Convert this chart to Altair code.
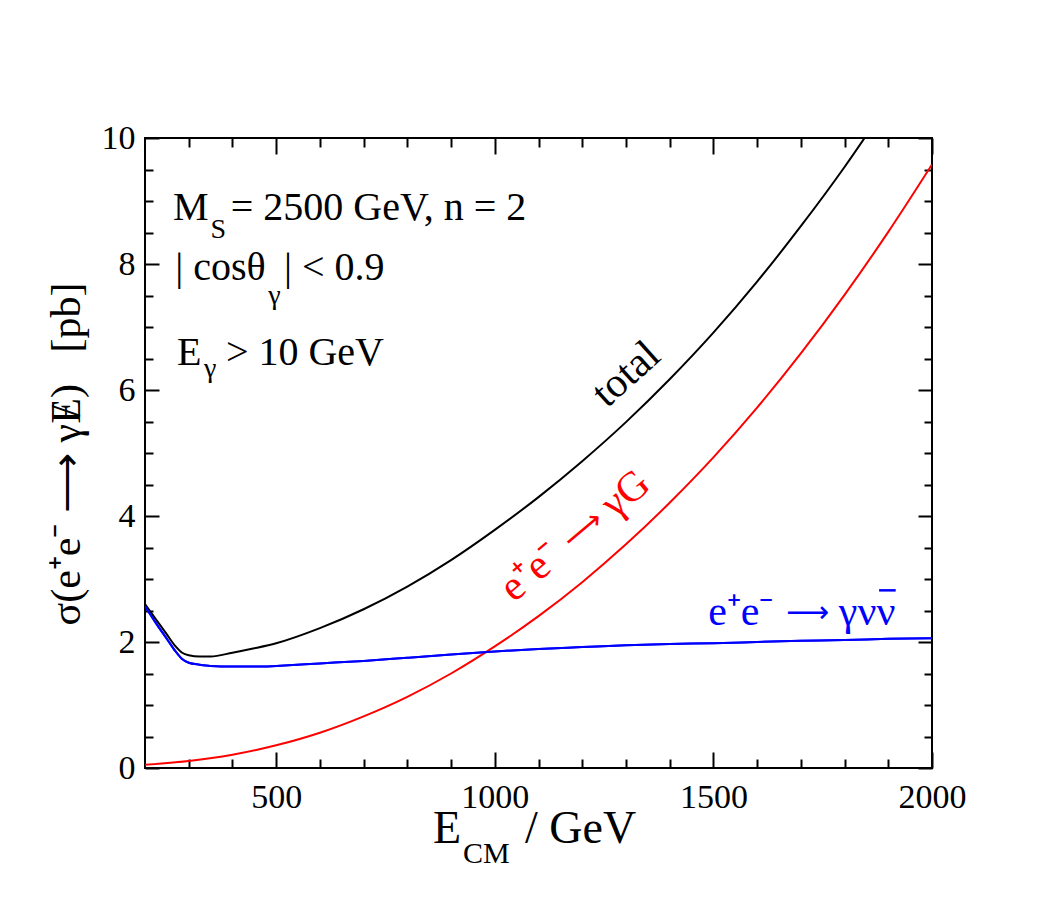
import altair as alt
import pandas as pd

# ---- data ----
E_total = [200, 225, 250, 270, 285, 300, 325, 350, 400, 450, 500, 600, 700, 800, 900,
           1000, 1100, 1200, 1300, 1400, 1500, 1600, 1700, 1800, 1900]
sig_total = [2.60, 2.36, 2.12, 1.93, 1.83, 1.79, 1.77, 1.77, 1.83, 1.90, 1.98, 2.22, 2.52,
             2.88, 3.30, 3.78, 4.30, 4.87, 5.49, 6.17, 6.91, 7.72, 8.60, 9.54, 10.56]

E_grav = [200, 300, 400, 500, 600, 700, 800, 900, 1000, 1100, 1200, 1300, 1400, 1500,
          1600, 1700, 1800, 1900, 2000]
sig_grav = [0.05, 0.11, 0.21, 0.36, 0.56, 0.82, 1.13, 1.50, 1.93, 2.41, 2.95, 3.55, 4.21,
            4.93, 5.72, 6.58, 7.51, 8.51, 9.58]

E_nunu = [200, 225, 250, 270, 285, 300, 325, 350, 400, 470, 500, 600, 700, 800, 900, 1000,
          1100, 1200, 1300, 1400, 1500, 1600, 1700, 1800, 1900, 2000]
sig_nunu = [2.57, 2.30, 2.05, 1.85, 1.73, 1.67, 1.64, 1.62, 1.61, 1.61, 1.62, 1.66, 1.70,
            1.75, 1.80, 1.85, 1.89, 1.92, 1.95, 1.97, 1.98, 2.00, 2.02, 2.03, 2.05, 2.06]

x_major = [500, 1000, 1500, 2000]
x_minor = [300, 400, 600, 700, 800, 900, 1100, 1200, 1300, 1400, 1600, 1700, 1800, 1900]
y_major = [0, 2, 4, 6, 8, 10]
y_minor = [0.5, 1, 1.5, 2.5, 3, 3.5, 4.5, 5, 5.5, 6.5, 7, 7.5, 8.5, 9, 9.5]

# annotation pieces (text, E, sigma, font size)
ann_text = ["M", "S", "= 2500 GeV, n = 2", "| cosθ", "γ", "| < 0.9", "E", "γ", "> 10 GeV"]
ann_E = [264, 350, 396, 269, 482, 518, 273, 335, 385]
ann_sig = [8.70, 8.42, 8.70, 7.75, 7.36, 7.75, 6.40, 6.20, 6.40]
ann_size = [40, 28, 40, 40, 28, 40, 40, 28, 40]

FONT = "Liberation Serif"
ARROW_FONT = "DejaVu Sans"
W, H = 787, 630

xs = alt.Scale(domain=[200, 2000], nice=False, zero=False)
ys = alt.Scale(domain=[0, 10], nice=False, zero=False)


def ax(orient, values, size, labels, pad=10):
    kw = dict(orient=orient, values=values, tickSize=size, offset=-size, domain=False,
              grid=False, ticks=True, tickColor="black", tickWidth=2, labels=labels,
              title=None)
    if labels:
        kw.update(labelFont=FONT, labelFontSize=34, labelColor="black", labelPadding=pad,
                  labelFlush=False, labelOverlap=False, labelBound=False, format="d")
    return alt.Axis(**kw)


def line(E, s, color, xa, ya):
    df = pd.DataFrame({"E": E, "s": s})
    return alt.Chart(df).mark_line(color=color, strokeWidth=2, clip=True,
                                   interpolate="monotone").encode(
        x=alt.X("E:Q", scale=xs, axis=xa),
        y=alt.Y("s:Q", scale=ys, axis=ya),
    )


l_total = line(E_total, sig_total, "black",
               ax("bottom", x_major, 16, True, 12), ax("left", y_major, 14, True, 10))
l_grav = line(E_grav, sig_grav, "#ff0000",
              ax("bottom", x_minor, 9, False), ax("left", y_minor, 8, False))
l_nunu = line(E_nunu, sig_nunu, "#0000ff",
              ax("top", x_major, 16, False), ax("right", y_major, 14, False))
l_nunu2 = line(E_nunu, sig_nunu, "#0000ff",
               ax("top", x_minor, 9, False), ax("right", y_minor, 8, False))

ann_df = pd.DataFrame({"t": ann_text, "E": ann_E, "s": ann_sig, "fs": ann_size})
ann = alt.Chart(ann_df).mark_text(font=FONT, align="left", baseline="alphabetic",
                                  color="black").encode(
    x=alt.X("E:Q", scale=xs, axis=None),
    y=alt.Y("s:Q", scale=ys, axis=None),
    text="t:N",
    size=alt.Size("fs:Q", scale=None, legend=None),
)


def label(txt, E, s, color, angle=0, align="left", font=FONT, fs=42):
    df = pd.DataFrame({"t": [txt], "E": [E], "s": [s]})
    return alt.Chart(df).mark_text(font=font, fontSize=fs, color=color, angle=angle,
                                   align=align, baseline="alphabetic").encode(
        x=alt.X("E:Q", scale=xs, axis=None),
        y=alt.Y("s:Q", scale=ys, axis=None),
        text="t:N",
    )


RED = "#ff0000"
BLUE = "#0000ff"
curve_labels = [
    label("total", 1320, 6.10, "black", 318, "center"),
    # e+e- -> gamma G, rotated along the red curve
    label("e⁺e⁻", 1044, 2.62, RED, 320),
    label("⟶", 1178, 3.45, RED, 320, font=ARROW_FONT, fs=30),
    label("γG", 1275, 3.95, RED, 320),
    # e+e- -> gamma nu nubar
    label("e⁺e⁻", 1488, 2.27, BLUE),
    label("⟶", 1666, 2.31, BLUE, font=ARROW_FONT, fs=30),
    label("γνν", 1787, 2.27, BLUE),
]
# bar over the anti-neutrino
bar_df = pd.DataFrame({"E1": [1879], "E2": [1917], "s": [2.82]})
nubar = alt.Chart(bar_df).mark_rule(color=BLUE, strokeWidth=2.5).encode(
    x=alt.X("E1:Q", scale=xs, axis=None), x2="E2:Q",
    y=alt.Y("s:Q", scale=ys, axis=None),
)


def title_piece(txt, px, py, fs, angle=0, align="left"):
    df = pd.DataFrame({"t": [txt]})
    return alt.Chart(df).mark_text(font=FONT, fontSize=fs, color="black", angle=angle,
                                   align=align, baseline="alphabetic").encode(
        x=alt.value(px), y=alt.value(py), text="t:N")


NB = "\u00a0"
xt1 = title_piece("E", 288, 705, 46)
xt2 = title_piece("CM", 318, 725, 30)
xt3 = title_piece("/ GeV", 380, 705, 46)
# y title split so the slashed E can be overlaid
yt1 = title_piece("σ(e⁺e⁻ ⟶ γ", -65, 286, 42, angle=270, align="right")
yt2 = title_piece("E", -65, 273, 42, angle=270, align="center")
yt3 = title_piece("/", -65, 273, 42, angle=270, align="center")
yt4 = title_piece(")" + NB * 3 + "[pb]", -65, 260, 42, angle=270, align="left")

chart = alt.layer(
    l_total, l_grav, l_nunu, l_nunu2, ann, *curve_labels, nubar,
    xt1, xt2, xt3, yt1, yt2, yt3, yt4,
).resolve_axis(x="independent", y="independent").properties(
    width=W, height=H,
    autosize=alt.AutoSizeParams(type="none"),
    padding={"left": 137, "top": 130, "right": 110, "bottom": 122},
    background="white",
).configure_view(stroke="black", strokeWidth=2)

chart.save("out.html", embed_options={"renderer": "svg", "actions": False})
